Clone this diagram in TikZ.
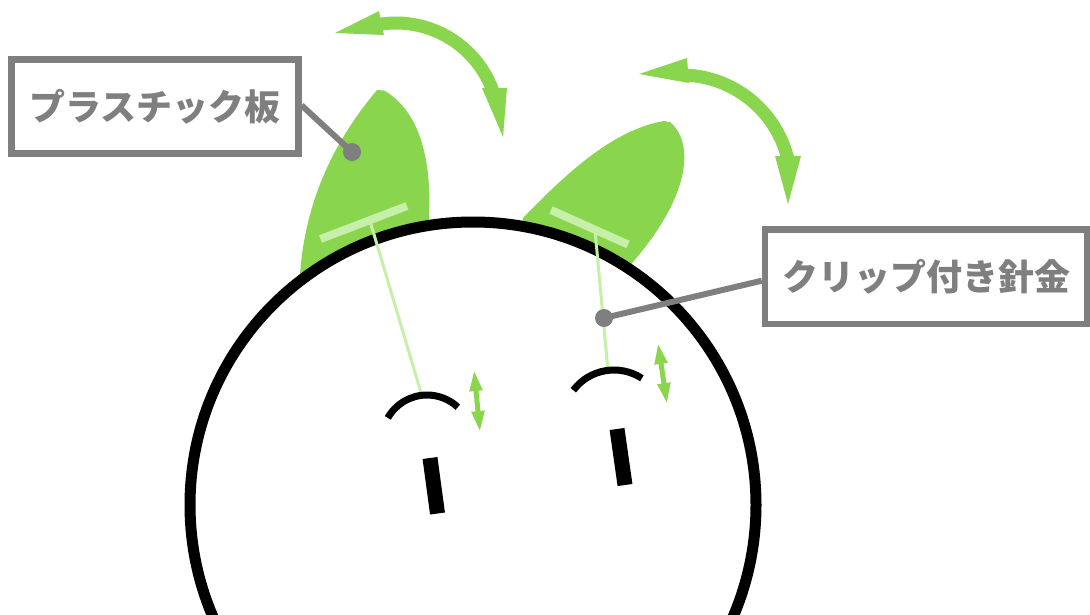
\documentclass[tikz,border=0pt]{standalone}
\usepackage{fontspec}
\newfontfamily\jpfont{Noto Sans CJK JP}
\usetikzlibrary{arrows.meta}
\definecolor{leafgreen}{HTML}{89D64E}
\definecolor{clipgreen}{HTML}{C6EFA9}
\definecolor{labelgray}{HTML}{7F7F7F}

\begin{document}
\begin{tikzpicture}[x=1pt,y=-1pt,
  labelbox/.style={draw=labelgray, line width=6.5pt, fill=white, text=labelgray,
    font=\jpfont\bfseries\fontsize{36}{42}\selectfont, inner sep=0pt},
  leader/.style={draw=labelgray, line width=6pt},
  leaderdot/.style={fill=labelgray},
  earshape/.style={fill=leafgreen},
  clipbar/.style={draw=clipgreen, line width=8pt},
  clipwire/.style={draw=clipgreen, line width=3pt},
  browstroke/.style={draw=black, line width=7pt},
  eyestroke/.style={draw=black, line width=15pt},
  swingshaft/.style={draw=leafgreen, line width=13pt},
  swinghead/.style={fill=leafgreen},
  twitch/.style={draw=leafgreen, line width=5pt,
    {Triangle[length=21pt,width=12pt]}-{Triangle[length=21pt,width=12pt]}},
]
\useasboundingbox (0,0) rectangle (1090,614);

% plastic ears (the lower parts are hidden behind the head)
\fill[earshape] (377,90) -- (384,90.5) .. controls (415,108) and (432,150) .. (429,215)
  -- (430,290) -- (300,300) -- (300,275) .. controls (305,200) and (335,140) .. (377,90) -- cycle;
\fill[earshape] (664,121) -- (670,122) .. controls (692,140) and (695,190) .. (633,262)
  -- (615,285) -- (520,250) -- (523,218) .. controls (560,180) and (610,130) .. (664,121) -- cycle;

% head
\draw[line width=11pt, fill=white] (473,505) circle[radius=283];

% clips on the ears and the wires down to the brows
\coordinate (lbarA) at (320.5,239);
\coordinate (lbarB) at (407,206);
\coordinate (rbarA) at (551,210);
\coordinate (rbarB) at (628,244.5);
\coordinate (lwireTop) at (370,221);
\coordinate (rwireTop) at (595,230);
\coordinate (lbrowTop) at (422,396);
\coordinate (rbrowTop) at (608,371);
\draw[clipbar] (lbarA) -- (lbarB);
\draw[clipbar] (rbarA) -- (rbarB);
\draw[clipwire] (lwireTop) -- (lbrowTop);
\draw[clipwire] (rwireTop) -- (rbrowTop);

% brows
\draw[browstroke, shift={(427,440)}] (-150.6:45) arc[start angle=-150.6, end angle=-46.8, radius=45];
\draw[browstroke, shift={(614,421)}] (-142.9:51) arc[start angle=-142.9, end angle=-56.9, radius=51];

% eyes
\draw[eyestroke] (430,458) -- (437.5,513.5);
\draw[eyestroke] (617,429) -- (625,485);

% small up-down motion marks
\draw[twitch] (474,370) -- (480,432);
\draw[twitch] (658,343) -- (667,404);

% large swing arrows above the ears
\draw[swingshaft, shift={(396,126)}] (-99:103) arc[start angle=-99, end angle=-18, radius=103];
\fill[swinghead] (335,33) -- (379,11) -- (384,35) -- cycle;
\fill[swinghead] (482,88) -- (507,88) -- (503,137) -- cycle;
\draw[swingshaft, shift={(681,185)}] (-88:110) arc[start angle=-88, end angle=-12, radius=110];
\fill[swinghead] (639,74) -- (687,58) -- (689,83) -- cycle;
\fill[swinghead] (775,156) -- (801,156) -- (788,204) -- cycle;

% labels
\node[labelbox, minimum width=286.6pt, minimum height=94pt] (plate) at (155,106.3) {プラスチック板};
\node[labelbox, minimum width=322pt, minimum height=94.7pt] (wirelabel) at (926,276.7) {クリップ付き針金};
\coordinate (platedot) at (352,152);
\coordinate (wiredot) at (604,318);
\draw[leader] ([yshift=1pt]plate.east) -- (platedot);
\fill[leaderdot] (platedot) circle[radius=9];
\draw[leader] ([yshift=-4pt]wirelabel.west) -- (wiredot);
\fill[leaderdot] (wiredot) circle[radius=9];
\end{tikzpicture}
\end{document}
